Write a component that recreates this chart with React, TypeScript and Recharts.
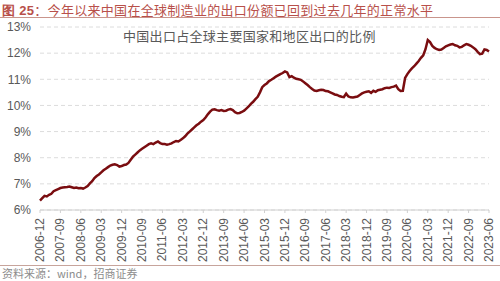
import { LineChart, Line, XAxis, YAxis, CartesianGrid } from 'recharts';

// China's share of exports of major economies, monthly, 2006-12 .. 2023-06 (%)
const shareValues = [
    6.36, 6.45, 6.54, 6.52, 6.58, 6.62, 6.72, 6.76, 6.80, 6.84,
    6.86, 6.87, 6.88, 6.90, 6.87, 6.84, 6.86, 6.83, 6.84, 6.82,
    6.86, 6.92, 7.02, 7.10, 7.22, 7.30, 7.36, 7.44, 7.52, 7.58,
    7.64, 7.70, 7.73, 7.75, 7.72, 7.66, 7.68, 7.72, 7.74, 7.80,
    7.92, 8.04, 8.12, 8.20, 8.28, 8.34, 8.40, 8.46, 8.52, 8.55,
    8.52, 8.58, 8.62, 8.56, 8.52, 8.52, 8.50, 8.52, 8.55, 8.60,
    8.64, 8.62, 8.68, 8.74, 8.82, 8.92, 9.00, 9.08, 9.16, 9.24,
    9.30, 9.38, 9.44, 9.54, 9.66, 9.76, 9.84, 9.85, 9.82, 9.80,
    9.82, 9.79, 9.80, 9.84, 9.86, 9.82, 9.74, 9.70, 9.71, 9.75,
    9.80, 9.88, 9.96, 10.06, 10.14, 10.24, 10.33, 10.50, 10.70, 10.78,
    10.84, 10.93, 10.98, 11.04, 11.10, 11.15, 11.20, 11.24, 11.30, 11.26,
    11.08, 11.12, 11.06, 11.02, 11.00, 10.98, 10.92, 10.85, 10.78, 10.70,
    10.63, 10.57, 10.55, 10.58, 10.60, 10.59, 10.55, 10.54, 10.50, 10.46,
    10.42, 10.40, 10.36, 10.33, 10.32, 10.45, 10.34, 10.31, 10.30, 10.32,
    10.34, 10.40, 10.46, 10.50, 10.52, 10.54, 10.48, 10.56, 10.52, 10.58,
    10.60, 10.62, 10.66, 10.68, 10.67, 10.70, 10.72, 10.76, 10.62, 10.55,
    10.56, 11.05, 11.20, 11.32, 11.42, 11.50, 11.60, 11.70, 11.82, 11.92,
    12.15, 12.50, 12.42, 12.28, 12.20, 12.15, 12.12, 12.14, 12.20, 12.26,
    12.30, 12.33, 12.35, 12.30, 12.28, 12.22, 12.24, 12.30, 12.35, 12.32,
    12.28, 12.22, 12.15, 12.05, 11.96, 11.98, 12.14, 12.12, 12.06,
];

const yTicks = [6, 7, 8, 9, 10, 11, 12, 13];

const startYear = 2006;
const startMonth = 12;

const months: string[] = shareValues.map((_, i) => {
    const m = startMonth - 1 + i;
    const y = startYear + Math.floor(m / 12);
    const mm = (m % 12) + 1;
    return `${y}-${mm < 10 ? '0' + mm : mm}`;
});

const chartData = months.map((month, i) => ({ month, share: shareValues[i] }));

const RotatedTick = (props: any) => {
    const { x, y, payload } = props;
    return (
        <text
            x={0}
            y={0}
            transform={`translate(${x},${y + 3}) rotate(-90)`}
            textAnchor="end"
            dominantBaseline="central"
            fill="#595959"
            fontSize={12}
            fontFamily="Liberation Sans, Arial, sans-serif"
        >
            {payload.value}
        </text>
    );
};

export default function App() {
    return (
        <div style={{ position: 'absolute', left: 0, top: 0, width: 500, height: 281, background: '#fff', overflow: 'hidden' }}>
            <div
                style={{
                    position: 'absolute', left: 2, top: 2, fontSize: 13, lineHeight: '16px', color: '#b8504a',
                    fontFamily: '"Noto Sans CJK SC", sans-serif', whiteSpace: 'nowrap', letterSpacing: 0.3,
                }}
            >
                <b style={{ fontFamily: 'Liberation Sans, Arial, sans-serif' }}>图 25</b>：今年以来中国在全球制造业的出口份额已回到过去几年的正常水平
            </div>
            <div style={{ position: 'absolute', left: 0, top: 17, width: 500, height: 1, background: '#c9958c' }} />
            <div style={{ position: 'absolute', left: 0, top: 0 }}>
                <LineChart width={500} height={265} data={chartData} margin={{ top: 27, right: 11, left: 0, bottom: 0 }}>
                    <CartesianGrid vertical={false} stroke="#dcdcdc" strokeDasharray="4 3" />
                    <XAxis
                        dataKey="month"
                        interval={8}
                        height={55}
                        tick={<RotatedTick />}
                        tickLine={{ stroke: '#d0d0d0' }}
                        tickSize={3}
                        axisLine={{ stroke: '#d0d0d0' }}
                    />
                    <YAxis
                        domain={[6, 13]}
                        ticks={yTicks}
                        width={40}
                        axisLine={false}
                        tickLine={false}
                        tickMargin={3}
                        tickFormatter={(v) => `${v}%`}
                        tick={{ fill: '#595959', fontSize: 12, fontFamily: 'Liberation Sans, Arial, sans-serif' }}
                    />
                    <Line
                        type="linear"
                        dataKey="share"
                        stroke="#7a0d10"
                        strokeWidth={2.5}
                        dot={false}
                        isAnimationActive={false}
                    />
                </LineChart>
            </div>
            <div
                style={{
                    position: 'absolute', left: 123, top: 27, fontSize: 13, lineHeight: '18px', color: '#595959',
                    fontFamily: '"Noto Sans CJK SC", serif', letterSpacing: 0.3, whiteSpace: 'nowrap',
                }}
            >
                中国出口占全球主要国家和地区出口的比例
            </div>
            <div style={{ position: 'absolute', left: 0, top: 265, width: 500, height: 1, background: '#c7a49c' }} />
            <div
                style={{
                    position: 'absolute', left: 2, top: 267, fontSize: 11, lineHeight: '13px', color: '#8c8c8c',
                    fontFamily: '"Noto Sans CJK SC", sans-serif', whiteSpace: 'nowrap',
                }}
            >
                资料来源：wind，招商证券
            </div>
        </div>
    );
}
